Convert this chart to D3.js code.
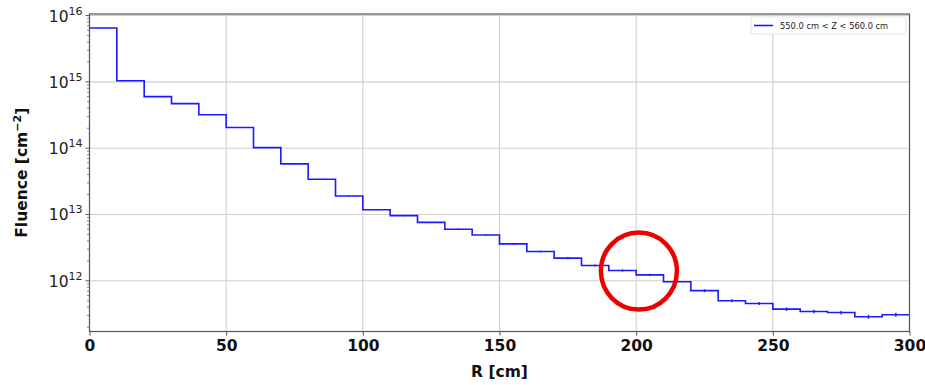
<!DOCTYPE html>
<html>
<head>
<meta charset="utf-8">
<script src="https://cdn.jsdelivr.net/npm/d3@7"></script>
<style>
  body { margin: 0; background: #fff; }
  text { font-family: "DejaVu Sans", sans-serif; }
</style>
</head>
<body>
<div id="chart"></div>
<script>
// Width and height
var w = 925;
var h = 385;
var margin = { top: 14, right: 15, bottom: 54, left: 89.5 };

// bin edges (cm) and fluence per bin
var binEdges = [0, 10, 20, 30, 40, 50, 60, 70, 80, 90, 100, 110, 120, 130, 140, 150,
    160, 170, 180, 190, 200, 210, 220, 230, 240, 250, 260, 270, 280, 290, 300];
var fluence = [6.5e15, 1.04e15, 6.0e14, 4.7e14, 3.2e14, 2.05e14, 1.02e14, 5.8e13, 3.4e13, 1.9e13,
    1.18e13, 9.6e12, 7.6e12, 6.0e12, 4.9e12, 3.6e12, 2.76e12, 2.2e12, 1.7e12, 1.43e12,
    1.23e12, 9.7e11, 7.1e11, 5.0e11, 4.55e11, 3.74e11, 3.45e11, 3.33e11, 2.87e11, 3.08e11];
// relative statistical error per bin
var relErr = [0.002, 0.004, 0.005, 0.005, 0.006, 0.007, 0.008, 0.01, 0.012, 0.015,
    0.02, 0.02, 0.022, 0.025, 0.025, 0.03, 0.03, 0.035, 0.035, 0.04,
    0.04, 0.045, 0.05, 0.05, 0.055, 0.06, 0.06, 0.065, 0.07, 0.07];
var xTicks = [0, 50, 100, 150, 200, 250, 300];
var yTicks = [1e12, 1e13, 1e14, 1e15, 1e16];
var legendLabel = "550.0 cm < Z < 560.0 cm";
var highlightR = 201;
var highlightF = 1.4e12;

var svg = d3.select("#chart")
    .append("svg")
    .attr("width", w)
    .attr("height", h);

var xScale = d3.scaleLinear()
    .domain([0, 300])
    .range([margin.left, w - margin.right - 0.5]);

var yScale = d3.scaleLog()
    .domain([1.72e11, 1.056e16])
    .range([h - margin.bottom + 0.5, margin.top]);

var x0 = xScale.range()[0], x1 = xScale.range()[1];
var y0 = yScale.range()[0], y1 = yScale.range()[1];

// grid
svg.append("g").selectAll("line.vg")
    .data(xTicks)
    .enter()
    .append("line")
    .attr("x1", function (d) { return xScale(d); })
    .attr("x2", function (d) { return xScale(d); })
    .attr("y1", y0)
    .attr("y2", y1)
    .attr("stroke", "#cfcfcf")
    .attr("stroke-width", 1.1);

svg.append("g").selectAll("line.hg")
    .data(yTicks)
    .enter()
    .append("line")
    .attr("x1", x0)
    .attr("x2", x1)
    .attr("y1", function (d) { return yScale(d); })
    .attr("y2", function (d) { return yScale(d); })
    .attr("stroke", "#cfcfcf")
    .attr("stroke-width", 1.1);

// step line
var stepPts = [];
fluence.forEach(function (f, i) {
    stepPts.push([binEdges[i], f]);
    stepPts.push([binEdges[i + 1], f]);
});
var line = d3.line()
    .x(function (d) { return xScale(d[0]); })
    .y(function (d) { return yScale(d[1]); });

svg.append("path")
    .datum(stepPts)
    .attr("d", line)
    .attr("fill", "none")
    .attr("stroke", "#1a1aff")
    .attr("stroke-width", 1.6);

// error bars at bin centres
svg.append("g").selectAll("line")
    .data(fluence)
    .enter()
    .append("line")
    .attr("x1", function (d, i) { return xScale((binEdges[i] + binEdges[i + 1]) / 2); })
    .attr("x2", function (d, i) { return xScale((binEdges[i] + binEdges[i + 1]) / 2); })
    .attr("y1", function (d, i) { return yScale(d * (1 - relErr[i])); })
    .attr("y2", function (d, i) { return yScale(d * (1 + relErr[i])); })
    .attr("stroke", "#1a1aff")
    .attr("stroke-width", 1.4);

// frame
svg.append("rect")
    .attr("x", x0)
    .attr("y", y1)
    .attr("width", x1 - x0)
    .attr("height", y0 - y1)
    .attr("fill", "none")
    .attr("stroke", "#555")
    .attr("stroke-width", 1.2);

// x axis
var xAxis = d3.axisBottom(xScale)
    .tickValues(xTicks)
    .tickSize(4)
    .tickPadding(4)
    .tickFormat(d3.format("d"));

var gx = svg.append("g")
    .attr("transform", "translate(0," + y0 + ")")
    .call(xAxis);
gx.select(".domain").remove();
gx.selectAll("line").attr("stroke", "#555");
gx.selectAll("text")
    .attr("font-size", 15.5)
    .attr("font-weight", "bold")
    .attr("fill", "#111")
    .attr("font-family", "DejaVu Sans");

// y axis minor ticks
var minor = [];
for (var e = 11; e <= 15; e++) {
    for (var m = 2; m <= 9; m++) {
        var v = m * Math.pow(10, e);
        if (v >= yScale.domain()[0] && v <= yScale.domain()[1]) minor.push(v);
    }
}
svg.append("g").selectAll("line")
    .data(minor)
    .enter()
    .append("line")
    .attr("x1", x0 - 2.5)
    .attr("x2", x0)
    .attr("y1", function (d) { return yScale(d); })
    .attr("y2", function (d) { return yScale(d); })
    .attr("stroke", "#666")
    .attr("stroke-width", 0.8);

// y axis major ticks and labels
var gy = svg.append("g");
gy.selectAll("line")
    .data(yTicks)
    .enter()
    .append("line")
    .attr("x1", x0 - 4)
    .attr("x2", x0)
    .attr("y1", function (d) { return yScale(d); })
    .attr("y2", function (d) { return yScale(d); })
    .attr("stroke", "#555");

var yl = gy.selectAll("text")
    .data(yTicks)
    .enter()
    .append("text")
    .attr("x", x0 - 7)
    .attr("y", function (d) { return yScale(d) + 6; })
    .attr("text-anchor", "end")
    .attr("font-size", 15.5)
    .attr("fill", "#222");
yl.append("tspan").text("10");
yl.append("tspan")
    .attr("dy", -7)
    .attr("font-size", 11)
    .text(function (d) { return Math.round(Math.log10(d)); });

// axis titles
svg.append("text")
    .attr("x", (x0 + x1) / 2)
    .attr("y", 377)
    .attr("text-anchor", "middle")
    .attr("font-size", 15.5)
    .attr("font-weight", "bold")
    .attr("fill", "#111")
    .text("R [cm]");

var yt = svg.append("text")
    .attr("transform", "translate(27," + ((y0 + y1) / 2) + ") rotate(-90)")
    .attr("text-anchor", "middle")
    .attr("font-size", 15.5)
    .attr("font-weight", "bold")
    .attr("fill", "#111");
yt.append("tspan").text("Fluence [cm");
yt.append("tspan").attr("dy", -6).attr("font-size", 11).text("\u22122");
yt.append("tspan").attr("dy", 6).text("]");

// legend
var lg = svg.append("g").attr("transform", "translate(751,17)");
lg.append("rect")
    .attr("width", 155)
    .attr("height", 17)
    .attr("rx", 2)
    .attr("fill", "#fff")
    .attr("stroke", "#ddd")
    .attr("stroke-width", 0.8);
lg.append("line")
    .attr("x1", 3)
    .attr("x2", 22)
    .attr("y1", 8.5)
    .attr("y2", 8.5)
    .attr("stroke", "#1a1aff")
    .attr("stroke-width", 1.6);
lg.append("text")
    .attr("x", 29)
    .attr("y", 12)
    .attr("font-size", 8.3)
    .attr("fill", "#222")
    .text(legendLabel);

// red circle highlight
svg.append("ellipse")
    .attr("cx", xScale(highlightR))
    .attr("cy", yScale(highlightF))
    .attr("rx", 38)
    .attr("ry", 38.5)
    .attr("fill", "none")
    .attr("stroke", "#ee0000")
    .attr("stroke-width", 4.5);
</script>
</body>
</html>
